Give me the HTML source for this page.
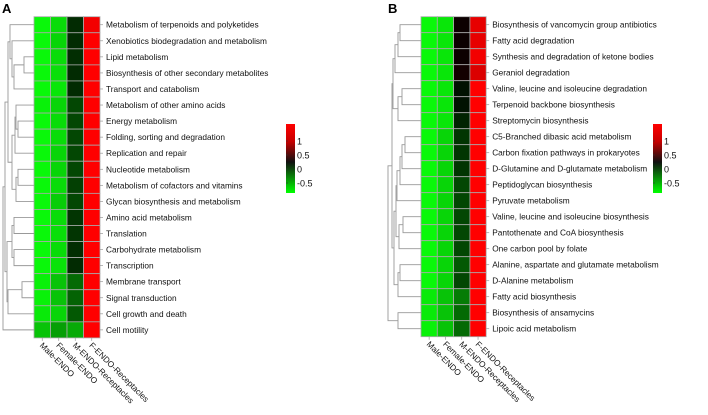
<!DOCTYPE html>
<html><head><meta charset="utf-8"><style>
body{margin:0;background:#fff;}
svg text{font-family:"Liberation Sans",Arial,sans-serif;}
</style></head><body>
<svg id="chart" width="708" height="410" viewBox="0 0 708 410" xmlns="http://www.w3.org/2000/svg">
<text x="2" y="13" font-size="13" font-weight="bold">A</text>
<text x="388" y="13" font-size="13" font-weight="bold">B</text>
<g id="pa"></g><g id="pb"></g>
</svg>
<script>
const columns = ["Male-ENDO","Female-ENDO","M-ENDO-Receptacles","F-ENDO-Receptacles"];
const rowsA = ["Metabolism of terpenoids and polyketides","Xenobiotics biodegradation and metabolism","Lipid metabolism","Biosynthesis of other secondary metabolites","Transport and catabolism","Metabolism of other amino acids","Energy metabolism","Folding, sorting and degradation","Replication and repair","Nucleotide metabolism","Metabolism of cofactors and vitamins","Glycan biosynthesis and metabolism","Amino acid metabolism","Translation","Carbohydrate metabolism","Transcription","Membrane transport","Signal transduction","Cell growth and death","Cell motility"];
const maleA = [-0.7,-0.7,-0.7,-0.7,-0.7,-0.68,-0.7,-0.7,-0.7,-0.7,-0.7,-0.7,-0.7,-0.7,-0.7,-0.7,-0.68,-0.68,-0.66,-0.55];
const femaleA = [-0.62,-0.6,-0.62,-0.63,-0.65,-0.6,-0.62,-0.62,-0.6,-0.6,-0.62,-0.58,-0.62,-0.63,-0.62,-0.64,-0.55,-0.55,-0.6,-0.45];
const mA = [-0.12,-0.12,-0.13,-0.12,-0.12,-0.2,-0.2,-0.2,-0.2,-0.2,-0.18,-0.2,-0.15,-0.15,-0.13,-0.12,-0.3,-0.28,-0.25,-0.48];
const fA = [1.0,1.05,1.05,1.05,1.05,1.1,1.1,1.1,1.1,1.1,1.1,1.1,1.05,1.05,1.05,1.05,1.1,1.1,1.1,1.1];
const rowsB = ["Biosynthesis of vancomycin group antibiotics","Fatty acid degradation","Synthesis and degradation of ketone bodies","Geraniol degradation","Valine, leucine and isoleucine degradation","Terpenoid backbone biosynthesis","Streptomycin biosynthesis","C5-Branched dibasic acid metabolism","Carbon fixation pathways in prokaryotes","D-Glutamine and D-glutamate metabolism","Peptidoglycan biosynthesis","Pyruvate metabolism","Valine, leucine and isoleucine biosynthesis","Pantothenate and CoA biosynthesis","One carbon pool by folate","Alanine, aspartate and glutamate metabolism","D-Alanine metabolism","Fatty acid biosynthesis","Biosynthesis of ansamycins","Lipoic acid metabolism"];
const maleB = [-0.7,-0.7,-0.7,-0.7,-0.7,-0.7,-0.7,-0.7,-0.7,-0.7,-0.7,-0.7,-0.7,-0.7,-0.7,-0.7,-0.7,-0.66,-0.66,-0.68];
const femaleB = [-0.65,-0.65,-0.65,-0.65,-0.65,-0.65,-0.65,-0.6,-0.6,-0.6,-0.6,-0.6,-0.6,-0.6,-0.6,-0.6,-0.6,-0.55,-0.55,-0.55];
const mB = [0.05,0.05,0.05,0.08,-0.05,-0.05,-0.1,-0.15,-0.15,-0.15,-0.2,-0.2,-0.2,-0.2,-0.2,-0.25,-0.2,-0.35,-0.3,-0.3];
const fB = [0.95,0.95,1.0,0.9,1.05,1.05,1.05,1.1,1.1,1.1,1.1,1.1,1.1,1.1,1.1,1.1,1.1,1.1,1.1,1.1];
const legendTicks = [1,0.5,0,-0.5];
// dendrogram: [joinOffset(px left of heatmap), left, right], leaves = row index
const treeA = [31,[29,[26,[24,0,[22,1,[20,[10,2,3],4]]],[22,[19,[18,5,[16,6,7]],8],[18,[16,9,10],11]]],[27,[22,[20,12,13],[20,14,15]],[26,[12,16,17],18]]],19];
const treeB = [33,[29,[28,[26,[23,[21,0,1],2],3],[23,[19,4,5],6]],[27,[25,[24,[21,[19,[16,7,8],9],10],11],[22,[18,12,13],14]],[23,[21,15,16],17]]],[26,[23,18,19],[0,null,null]]];

const svg = document.getElementById('chart');
const NS = 'http://www.w3.org/2000/svg';
function mk(tag, attrs, parent){const e=document.createElementNS(NS,tag);for(const k in attrs)e.setAttribute(k,attrs[k]);parent.appendChild(e);return e;}
function color(v){
  if(v<0){const t=Math.min(1,-v/0.72);return `rgb(${Math.round(10*t)},${Math.round(255*t)},${Math.round(10*t)})`;}
  const t=Math.min(1,v/1.05);return `rgb(${Math.round(255*t)},0,0)`;
}
function panel(g, x0, y0, cw, rh, rows, series, tree, legX, tag){
  const n=rows.length;
  const yOf=i=>y0+rh*(i+0.5);
  series.forEach((vals,c)=>{
    vals.forEach((v,r)=>{
      const rect=mk('rect',{x:x0+c*cw,y:y0+r*rh,width:cw,height:rh,fill:color(v),stroke:'#aaa','stroke-width':0.8},g);
      
      
    });
  });
  rows.forEach((name,r)=>{
    mk('line',{x1:x0+4*cw,x2:x0+4*cw+3,y1:yOf(r),y2:yOf(r),stroke:'#999','stroke-width':0.7},g);
    const t=mk('text',{x:x0+4*cw+6,y:yOf(r)+3,'font-size':8.3,fill:'#111'},g);
    t.textContent=name;
    
    
  });
  columns.forEach((name,c)=>{
    const cx=x0+c*cw+cw/2, cy=y0+n*rh;
    mk('line',{x1:cx,x2:cx,y1:cy,y2:cy+3,stroke:'#999','stroke-width':0.7},g);
    const t=mk('text',{x:cx-3,y:cy+8,'font-size':8.3,fill:'#111',transform:`rotate(45 ${cx-3} ${cy+8})`},g);
    t.textContent=name;
    
    
  });
  function draw(node){
    if(typeof node==='number')return {x:x0,y:yOf(node)};
    if(node[1]===null)return null;
    const a=draw(node[1]), b=draw(node[2]);
    if(!b)return a;
    const jx=x0-node[0];
    mk('path',{d:`M${a.x},${a.y}H${jx}V${b.y}H${b.x}`,fill:'none',stroke:'#999','stroke-width':0.9},g);
    return {x:jx,y:(a.y+b.y)/2};
  }
  draw(tree);
  const top=124,bot=193;
  const grad=mk('linearGradient',{id:'lg'+tag,x1:0,y1:0,x2:0,y2:1},g);
  [[0,'#ff0000'],[0.25,'#c80000'],[0.55,'#111'],[1,'#00ff00']].forEach(s=>mk('stop',{offset:s[0],'stop-color':s[1]},grad));
  const lr=mk('rect',{x:legX,y:top,width:9,height:bot-top,fill:`url(#lg${tag})`},g);
  
  
  const yl=v=>169-v*28;
  legendTicks.forEach(v=>{
    mk('line',{x1:legX,x2:legX+2,y1:yl(v),y2:yl(v),stroke:'#333','stroke-width':0.6},g);
    const t=mk('text',{x:legX+11,y:yl(v)+3.5,'font-size':9,fill:'#111'},g);
    t.textContent=String(v);
    
    
  });
}
panel(document.getElementById('pa'),34,16.7,16.5,16.06,rowsA,[maleA,femaleA,mA,fA],treeA,286,'a');
panel(document.getElementById('pb'),421,16.7,16.3,16.0,rowsB,[maleB,femaleB,mB,fB],treeB,653,'b');
</script>
</body></html>
